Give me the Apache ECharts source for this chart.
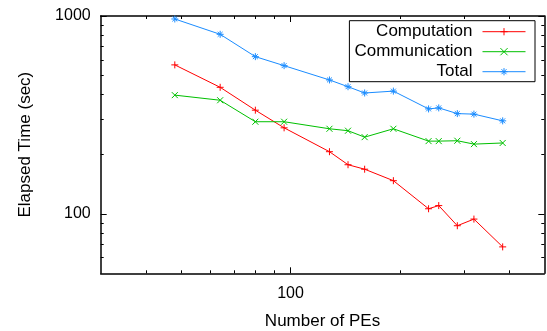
<!DOCTYPE html>
<html>
<head>
<meta charset="utf-8">
<script src="https://cdn.jsdelivr.net/npm/echarts@6/dist/echarts.min.js"></script>
<style>html,body{margin:0;padding:0;background:#fff;}#c{width:547px;height:331px;}</style>
</head>
<body>
<div id="c"></div>
<script>
var pes = [48, 64, 80, 96, 128, 144, 160, 192, 240, 256, 288, 320, 384];
var computation = [566, 436, 334, 272, 206, 177, 168, 147, 106, 110, 87, 94, 68];
var communication = [398, 375, 292, 292, 269, 263, 244, 269, 233, 233, 234, 225, 228];
var total = [966, 808, 623, 561, 475, 439, 408, 417, 339, 343, 321, 319, 295];
var xMajor = [100];
var xMinor = [40, 50, 60, 70, 80, 90, 200, 300, 400];
var yMajor = [100, 1000];
var yMinor = [60, 70, 80, 90, 200, 300, 400, 500, 600, 700, 800, 900];

var FONT = 'Liberation Sans, Arial, Helvetica, sans-serif';
var AX = '#000';
function pairs(xs, ys) { return xs.map(function (x, i) { return [x, ys[i]]; }); }
function plainNum(v) { return String(Math.round(v)); }

function xAxisDef(pos, major, showLabel, showLine) {
  return {
    type: 'log', min: 30, max: 500, position: pos, gridIndex: 0,
    axisLine: { show: showLine, lineStyle: { color: AX, width: 1.5 } },
    axisTick: { show: true, inside: true, length: major ? 6 : 3, customValues: major ? xMajor : xMinor, lineStyle: { color: AX, width: 1 } },
    axisLabel: { show: showLabel, customValues: xMajor, formatter: plainNum, margin: 12, color: '#000', fontSize: 16, fontFamily: FONT },
    splitLine: { show: false },
    minorTick: { show: false }
  };
}
function yAxisDef(pos, major, showLabel, showLine) {
  return {
    type: 'log', min: 50, max: 1000, position: pos, gridIndex: 0,
    axisLine: { show: showLine, lineStyle: { color: AX, width: 1.5 } },
    axisTick: { show: true, inside: true, length: major ? 6 : 3, customValues: major ? yMajor : yMinor, lineStyle: { color: AX, width: 1 } },
    axisLabel: { show: showLabel, customValues: yMajor, formatter: plainNum, margin: 10, color: '#000', fontSize: 16, fontFamily: FONT },
    splitLine: { show: false },
    minorTick: { show: false }
  };
}

var xa0 = xAxisDef('bottom', true, true, true);
xa0.name = 'Number of PEs';
xa0.nameLocation = 'middle';
xa0.nameGap = 40;
xa0.nameTextStyle = { color: '#000', fontSize: 17, fontFamily: FONT };
var ya0 = yAxisDef('left', true, true, true);
ya0.name = 'Elapsed Time (sec)';
ya0.nameLocation = 'middle';
ya0.nameGap = 67;
ya0.nameTextStyle = { color: '#000', fontSize: 17, fontFamily: FONT };

var plusPath = 'path://M0,5L10,5M5,0L5,10';
var crossPath = 'path://M0,0L10,10M10,0L0,10';
var starPath = 'path://M0,5L10,5M5,0L5,10M1.5,1.5L8.5,8.5M8.5,1.5L1.5,8.5';

function ser(name, ys, color, sym, size) {
  return {
    name: name, type: 'line', xAxisIndex: 0, yAxisIndex: 0,
    data: pairs(pes, ys),
    symbol: sym, symbolSize: size, showAllSymbol: true,
    lineStyle: { color: color, width: 1 },
    itemStyle: { color: color, borderColor: color, borderWidth: 1 },
    emphasis: { disabled: true },
    animation: false
  };
}

var chart = echarts.init(document.getElementById('c'), null, { renderer: 'canvas' });
chart.setOption({
  animation: false,
  backgroundColor: '#fff',
  grid: { left: 100.7, right: 2.7, top: 16, bottom: 57.7, containLabel: false, outerBoundsMode: 'none' },
  xAxis: [xa0, xAxisDef('bottom', false, false, false), xAxisDef('top', true, false, true), xAxisDef('top', false, false, false)],
  yAxis: [ya0, yAxisDef('left', false, false, false), yAxisDef('right', true, false, true), yAxisDef('right', false, false, false)],
  legend: {
    orient: 'vertical', right: 12, top: 20.7, align: 'right',
    itemWidth: 43, itemHeight: 9, itemGap: 0,
    padding: [1, 9, 0, 5],
    borderColor: '#000', borderWidth: 1,
    selectedMode: false,
    lineStyle: { width: 1 },
    itemStyle: { borderWidth: 1 },
    formatter: '{a|{name}}',
    textStyle: { fontSize: 17, lineHeight: 20, fontFamily: FONT, color: '#000',
      rich: { a: { width: 118, height: 20, align: 'right', fontSize: 17, lineHeight: 20, fontFamily: FONT, color: '#000', padding: [0, 5, 0, 0] } } },
    data: ['Computation', 'Communication', 'Total']
  },
  series: [
    ser('Computation', computation, '#ff0000', plusPath, 7),
    ser('Communication', communication, '#00c000', crossPath, 6),
    ser('Total', total, '#1a8cff', starPath, 7)
  ]
});
</script>
</body>
</html>
